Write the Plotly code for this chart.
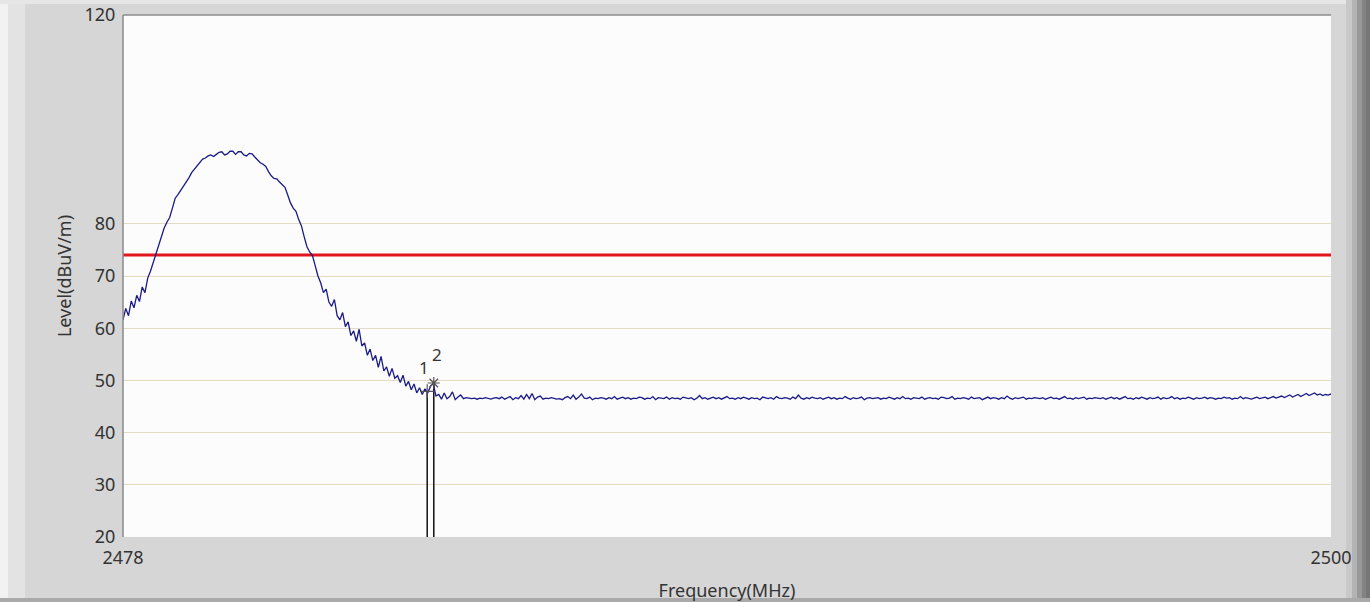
import numpy as np
import plotly.graph_objects as go

# Spectrum sweep, 2478-2500 MHz, one reading every 0.05 MHz
f_start = 2478.0
f_step = 0.05

# carrier and upper skirt, 2478.00 .. 2483.50
level_carrier = [
    61.6, 63.8, 62.4, 65.2, 63.9, 66.3, 65.1, 67.9, 66.8, 69.6,
    70.9, 72.6, 74.0, 75.8, 77.8, 79.2, 80.3, 81.2, 83.0, 84.9,
    85.6, 86.4, 87.0, 87.8, 88.8, 89.8, 90.5, 91.1, 91.8, 92.4,
    92.6, 93.0, 93.2, 92.9, 93.3, 93.7, 93.8, 93.2, 93.4, 93.9,
    93.9, 93.3, 93.8, 93.8, 93.2, 93.0, 93.5, 93.4, 92.8, 92.2,
    91.7, 91.4, 91.0, 90.0, 89.2, 88.7, 88.6, 88.0, 87.4, 87.0,
    85.5, 84.0, 83.0, 82.4, 80.8, 79.6, 77.5, 75.6, 74.6, 73.9,
    72.0, 70.0, 68.7, 66.8, 67.5, 65.0, 64.2, 65.5, 62.4, 61.6,
    63.0, 60.3, 61.2, 58.6, 59.5, 57.5, 59.8, 56.6, 57.2, 54.8,
    56.0, 53.8, 54.8, 52.5, 54.6, 51.8, 52.6, 50.8, 52.3, 50.4,
    50.9, 49.6, 51.0, 48.9, 49.8, 48.2, 49.3, 47.6, 48.6, 47.3,
    48.4,
]
# band edge, 2483.55 .. 2483.70
level_edge = [47.6, 48.9, 49.4, 47.0]
# noise floor, 2483.75 .. 2500.00
level_floor = [
    47.3, 46.4, 47.6, 46.5, 46.9, 47.8, 46.3, 46.8, 47.2, 46.5, 46.7, 46.6, 46.5, 46.6, 46.4, 46.6, 46.5, 46.7, 46.6, 46.4,
    46.6, 46.7, 46.5, 46.8, 46.4, 46.6, 46.9, 46.3, 46.7, 46.5, 47.1, 46.4, 47.3, 46.5, 47.5, 46.3, 46.8, 47.0, 46.4, 46.6,
    46.5, 46.7, 46.6, 46.4, 46.5, 46.3, 46.7, 46.9, 46.5, 47.2, 46.4, 46.8, 47.4, 46.6, 46.5, 46.8, 46.3, 46.6, 46.5, 46.7,
    46.6, 46.4, 46.7, 46.5, 46.9, 46.4, 46.6, 46.8, 46.5, 46.7, 46.4, 46.6, 46.5, 46.8, 46.7, 46.4, 46.6, 46.5, 46.9, 46.3,
    46.7, 46.6, 46.5, 46.8, 46.4, 46.7, 46.5, 46.6, 46.4, 46.8, 46.6, 46.5, 46.7, 46.3, 46.6, 47.1, 46.5, 46.7, 46.4, 46.6,
    46.8, 46.5, 46.7, 46.4, 46.6, 46.9, 46.5, 46.6, 46.4, 46.7, 46.5, 46.8, 46.6, 46.4, 46.7, 46.5, 46.6, 46.3, 46.8, 46.6,
    46.5, 46.7, 46.4, 46.9, 46.6, 46.5, 46.7, 46.6, 46.4, 46.8, 46.5, 47.2, 46.6, 46.4, 46.7, 46.5, 46.8, 46.6, 46.5, 46.7,
    46.4, 46.6, 46.8, 46.5, 46.7, 46.4, 46.6, 46.5, 46.9, 46.6, 46.4, 46.7, 46.5, 46.6, 46.8, 46.3, 46.6, 46.7, 46.5, 46.6,
    46.7, 46.4, 46.6, 46.5, 46.8, 46.6, 46.4, 46.7, 46.5, 46.9, 46.5, 46.6, 46.4, 46.7, 46.6, 46.5, 46.8, 46.4, 46.6, 46.7,
    46.5, 46.6, 46.4, 46.8, 46.7, 46.5, 46.6, 46.9, 46.4, 46.6, 46.5, 46.7, 46.6, 46.4, 46.8, 46.5, 46.6, 46.7, 46.3, 46.6,
    46.8, 46.5, 46.7, 46.6, 46.4, 46.7, 46.5, 47.0, 46.6, 46.4, 46.7, 46.5, 46.6, 46.8, 46.4, 46.6, 46.5, 46.7, 46.6, 46.5,
    46.7, 46.4, 46.6, 46.8, 46.5, 46.6, 46.4, 46.7, 46.9, 46.5, 46.6, 46.4, 46.7, 46.5, 46.6, 46.8, 46.4, 46.6, 46.5, 46.7,
    46.6, 46.5, 46.7, 46.4, 46.6, 46.8, 46.5, 46.7, 46.4, 46.6, 46.9, 46.5, 46.6, 46.4, 46.7, 46.5, 46.8, 46.6, 46.4, 46.7,
    46.5, 46.6, 46.8, 46.4, 46.7, 46.5, 46.6, 46.9, 46.5, 46.7, 46.4, 46.6, 46.5, 46.8, 46.6, 46.4, 46.7, 46.5, 46.6, 46.8,
    46.5, 46.7, 46.6, 46.4, 46.6, 46.5, 46.8, 46.6, 46.7, 46.4, 46.6, 46.5, 46.9, 46.5, 46.7, 46.6, 46.4, 46.6, 46.8, 46.5,
    46.6, 46.8, 46.5, 46.7, 46.9, 46.6, 46.8, 47.0, 46.7, 46.9, 47.2, 46.8, 47.1, 47.3, 46.9, 47.2, 47.5, 47.1, 47.3, 47.6,
    47.2, 47.4, 47.1, 47.3, 47.2, 47.4,
]

limit_level = 74.0

marker_names = ["1", "2"]
marker_freq = [2483.54, 2483.66]
marker_level = [47.9, 49.5]

y_ticks = [20, 30, 40, 50, 60, 70, 80, 120]
x_ticks = [2478, 2500]

level = level_carrier + level_edge + level_floor
freq = f_start + f_step * np.arange(len(level))

FONT = "Noto Sans"

fig = go.Figure()

# marker drop lines
for f, lv in zip(marker_freq, marker_level):
    fig.add_trace(go.Scatter(
        x=[f, f], y=[20, lv], mode="lines",
        line=dict(color="#111111", width=1.5), hoverinfo="skip"
    ))

# limit line
fig.add_trace(go.Scatter(
    x=[x_ticks[0], x_ticks[-1]], y=[limit_level, limit_level], mode="lines",
    line=dict(color="#e3161d", width=3), name="Limit"
))

# measured trace
fig.add_trace(go.Scatter(
    x=freq, y=level, mode="lines",
    line=dict(color="#1a1a88", width=1.3), name="Level"
))

# marker symbols
fig.add_trace(go.Scatter(
    x=marker_freq, y=marker_level, mode="markers",
    marker=dict(symbol=["cross-thin-open", "asterisk-open"], size=10,
                color="#555555", line=dict(color="#555555", width=1.2)),
    hoverinfo="skip"
))

# marker labels
for name, f, lv, dx, dy in zip(marker_names, marker_freq, marker_level, [-0.05, 0.05], [4.5, 5.5]):
    fig.add_annotation(
        x=f + dx, y=lv + dy, text=name, showarrow=False,
        font=dict(family=FONT, size=17, color="#333333")
    )

# window decoration (frame strips around the chart)
px_w = 1208.0
px_h = 522.0


def px_x(p):
    return (p - 123) / px_w


def px_y(p):
    return (537 - p) / px_h


deco = [
    (0, 8, 0, 602, "#f2f2f2"),
    (8, 25, 0, 602, "#e3e3e3"),
    (0, 1370, 0, 4, "#e6e6e6"),
    (1346, 1352, 0, 602, "#c9c9c9"),
    (1352, 1357, 0, 602, "#b3b3b3"),
    (1357, 1362, 0, 602, "#999999"),
    (1362, 1366, 0, 602, "#838383"),
    (1366, 1370, 0, 602, "#767676"),
    (0, 1370, 598, 602, "#a9a9a9"),
]
for x0, x1, y0, y1, col in deco:
    fig.add_shape(type="rect", xref="paper", yref="paper",
                  x0=px_x(x0), x1=px_x(x1), y0=px_y(y1), y1=px_y(y0),
                  fillcolor=col, line_width=0, layer="below")

# plot frame: left and top edges
fig.add_shape(type="line", xref="paper", yref="paper", x0=0, x1=0, y0=0, y1=1,
              line=dict(color="#8a8a8a", width=1.5))
fig.add_shape(type="line", xref="paper", yref="paper", x0=0, x1=1, y0=1, y1=1,
              line=dict(color="#8a8a8a", width=1.5))

fig.update_layout(
    width=1370, height=602,
    margin=dict(l=123, r=39, t=15, b=65, autoexpand=False),
    paper_bgcolor="#d6d6d6",
    plot_bgcolor="#fcfcfc",
    showlegend=False,
    font=dict(family=FONT, size=18, color="#333333"),
    xaxis=dict(
        range=[x_ticks[0], x_ticks[-1]], tickvals=x_ticks,
        ticktext=[str(t) for t in x_ticks],
        showgrid=False, zeroline=False, showline=False,
        ticks="outside", ticklen=4, tickcolor="rgba(0,0,0,0)",
        tickfont=dict(size=18, color="#333333"),
        title=dict(text="Frequency(MHz)", standoff=18,
                   font=dict(size=18, color="#333333")),
    ),
    yaxis=dict(
        range=[20, 120], tickvals=y_ticks,
        ticktext=[str(t) for t in y_ticks],
        showgrid=True, gridcolor="#e2dcc4", gridwidth=1,
        zeroline=False, showline=False,
        ticks="outside", ticklen=3, tickcolor="rgba(0,0,0,0)",
        tickfont=dict(size=18, color="#333333"),
        title=dict(text="Level(dBuV/m)", standoff=8,
                   font=dict(size=18, color="#333333")),
    ),
)

# the page's default body margin would push the figure 8px off the window
fig.write_html("out.html", config={"displayModeBar": False},
               post_script="document.body.style.margin='0';")
